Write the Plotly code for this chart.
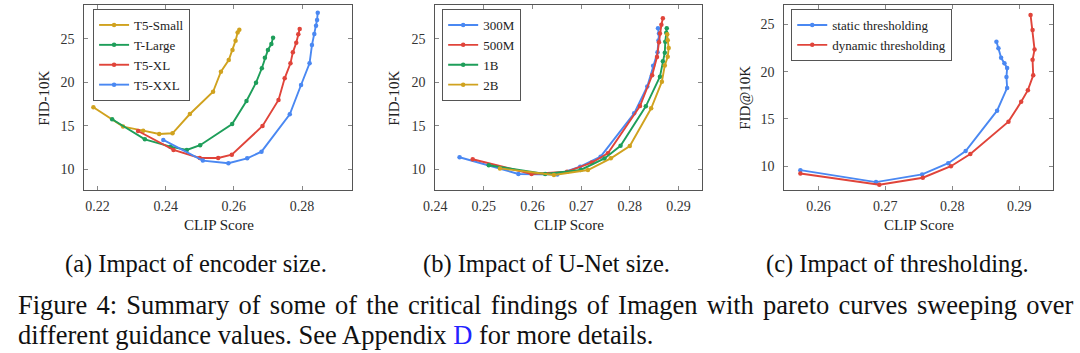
import plotly.graph_objects as go

# ---------------- data ----------------
# (a) Impact of encoder size
a_small_x = [0.2188, 0.2275, 0.2334, 0.2381, 0.2420, 0.2471, 0.2539, 0.2562, 0.2585, 0.2596, 0.2605, 0.2611, 0.2616]
a_small_y = [17.12, 14.90, 14.44, 14.06, 14.13, 16.35, 18.90, 21.20, 22.55, 23.70, 24.77, 25.70, 26.03]
a_large_x = [0.2243, 0.2339, 0.2414, 0.2462, 0.2501, 0.2595, 0.2637, 0.2665, 0.2682, 0.2691, 0.2700, 0.2710, 0.2715]
a_large_y = [15.74, 13.44, 12.60, 12.22, 12.76, 15.20, 17.85, 19.95, 21.60, 22.80, 23.70, 24.39, 25.10]
a_xl_x = [0.2319, 0.2423, 0.2500, 0.2554, 0.2594, 0.2684, 0.2731, 0.2749, 0.2766, 0.2773, 0.2783, 0.2789, 0.2793]
a_xl_y = [14.40, 12.22, 11.30, 11.30, 11.68, 14.97, 17.96, 20.45, 22.17, 23.43, 24.54, 25.50, 26.10]
a_xxl_x = [0.2393, 0.2509, 0.2584, 0.2639, 0.2681, 0.2764, 0.2797, 0.2822, 0.2829, 0.2836, 0.2841, 0.2844, 0.2846]
a_xxl_y = [13.37, 11.00, 10.69, 11.26, 12.02, 16.31, 19.68, 22.17, 24.27, 25.53, 26.50, 27.15, 27.99]

# (b) Impact of U-Net size
b_300m_x = [0.2450, 0.2571, 0.2651, 0.2698, 0.2740, 0.2809, 0.2836, 0.2848, 0.2857, 0.2859, 0.2860, 0.2858]
b_300m_y = [11.38, 9.46, 9.40, 10.30, 11.45, 16.43, 19.52, 21.90, 23.45, 24.80, 25.60, 26.20]
b_500m_x = [0.2477, 0.2598, 0.2671, 0.2722, 0.2755, 0.2821, 0.2846, 0.2856, 0.2860, 0.2862, 0.2865, 0.2868]
b_500m_y = [11.15, 9.46, 9.73, 10.77, 11.84, 17.27, 20.80, 22.90, 24.60, 25.60, 26.60, 27.35]
b_1b_x = [0.2510, 0.2626, 0.2699, 0.2748, 0.2781, 0.2833, 0.2862, 0.2868, 0.2872, 0.2873, 0.2875, 0.2876]
b_1b_y = [10.46, 9.46, 9.92, 11.24, 12.69, 17.23, 20.63, 22.40, 23.39, 24.65, 25.69, 26.20]
b_2b_x = [0.2533, 0.2644, 0.2714, 0.2761, 0.2800, 0.2844, 0.2866, 0.2872, 0.2878, 0.2880, 0.2878, 0.2877]
b_2b_y = [10.10, 9.35, 9.92, 11.26, 12.67, 17.00, 20.06, 21.93, 22.93, 23.93, 24.82, 25.50]

# (c) Impact of thresholding
c_static_x = [0.2573, 0.2686, 0.2755, 0.2794, 0.2820, 0.2867, 0.2882, 0.2881, 0.2882, 0.2878, 0.2873, 0.2869, 0.2866]
c_static_y = [9.58, 8.32, 9.13, 10.32, 11.60, 15.88, 18.29, 19.45, 20.39, 20.91, 21.48, 22.49, 23.19]
c_dyn_x = [0.2573, 0.2691, 0.2756, 0.2798, 0.2827, 0.2884, 0.2903, 0.2913, 0.2921, 0.2920, 0.2923, 0.2920, 0.2917]
c_dyn_y = [9.23, 8.04, 8.78, 10.00, 11.30, 14.72, 16.82, 18.05, 19.62, 21.27, 22.35, 24.42, 26.02]

a_xticks = [0.22, 0.24, 0.26, 0.28]
b_xticks = [0.24, 0.25, 0.26, 0.27, 0.28, 0.29]
c_xticks = [0.26, 0.27, 0.28, 0.29]
yticks = [10, 15, 20, 25]

# ---------------- style ----------------
GOLD = "#D0A21F"
GREEN = "#1E9E5A"
RED = "#E0443A"
BLUE = "#4A88F2"
SERIF = "Liberation Serif"

W, H = 1080, 353


def px_x(p):
    return p / W


def px_y(p):
    return 1 - p / H


fig = go.Figure()


def add(x, y, name, color, ax, leg):
    fig.add_trace(go.Scatter(
        x=x, y=y, name=name, mode="lines+markers",
        line=dict(color=color, width=1.9),
        marker=dict(color=color, size=4.5, symbol="circle"),
        xaxis=ax[0], yaxis=ax[1], legend=leg,
    ))


add(a_small_x, a_small_y, "T5-Small", GOLD, ("x", "y"), "legend")
add(a_large_x, a_large_y, "T-Large", GREEN, ("x", "y"), "legend")
add(a_xl_x, a_xl_y, "T5-XL", RED, ("x", "y"), "legend")
add(a_xxl_x, a_xxl_y, "T5-XXL", BLUE, ("x", "y"), "legend")

add(b_300m_x, b_300m_y, "300M", BLUE, ("x2", "y2"), "legend2")
add(b_500m_x, b_500m_y, "500M", RED, ("x2", "y2"), "legend2")
add(b_1b_x, b_1b_y, "1B", GREEN, ("x2", "y2"), "legend2")
add(b_2b_x, b_2b_y, "2B", GOLD, ("x2", "y2"), "legend2")

add(c_static_x, c_static_y, "static thresholding", BLUE, ("x3", "y3"), "legend3")
add(c_dyn_x, c_dyn_y, "dynamic thresholding", RED, ("x3", "y3"), "legend3")

tickfont = dict(family=SERIF, size=14, color="#333")


def xax(dom, rng, ticks, anchor):
    return dict(domain=dom, range=rng, anchor=anchor, tickvals=ticks,
                ticktext=[f"{t:.2f}" for t in ticks],
                showgrid=False, zeroline=False, showline=True, mirror="ticks",
                linecolor="#555", linewidth=1, ticks="inside", ticklen=4,
                tickcolor="#888", tickfont=tickfont, ticklabelstandoff=3)


def yax(dom, rng, anchor):
    return dict(domain=dom, range=rng, anchor=anchor, tickvals=yticks,
                ticktext=[str(t) for t in yticks],
                showgrid=False, zeroline=False, showline=True, mirror="ticks",
                linecolor="#555", linewidth=1, ticks="inside", ticklen=4,
                tickcolor="#888", tickfont=tickfont, ticklabelstandoff=6)


ydom = [px_y(190), px_y(5)]
fig.update_layout(
    xaxis=xax([px_x(73), px_x(344)], [0.2161, 0.2947], a_xticks, "y"),
    yaxis=yax(ydom, [7.62, 28.87], "x"),
    xaxis2=xax([px_x(428), px_x(698)], [0.2400, 0.2949], b_xticks, "y2"),
    yaxis2=yax(ydom, [7.62, 28.87], "x2"),
    xaxis3=xax([px_x(781), px_x(1053)], [0.2549, 0.2951], c_xticks, "y3"),
    yaxis3=yax(ydom, [7.48, 27.07], "x3"),
)

legstyle = dict(bgcolor="white", bordercolor="#555", borderwidth=1,
                font=dict(family=SERIF, size=13, color="#222"),
                xanchor="left", yanchor="top", itemwidth=30,
                tracegroupgap=0)
fig.update_layout(
    legend=dict(x=px_x(82), y=px_y(9), **legstyle),
    legend2=dict(x=px_x(435), y=px_y(9), **legstyle),
    legend3=dict(x=px_x(788), y=px_y(9), **legstyle),
)

ann = []
axis_title_font = dict(family=SERIF, size=15, color="#222")
for cx, ytitle, ytx in [(209, "FID-10K", 32), (563, "FID-10K", 386), (917, "FID@10K", 741)]:
    ann.append(dict(x=px_x(cx), y=px_y(225), xref="paper", yref="paper",
                    text="CLIP Score", showarrow=False, font=axis_title_font,
                    xanchor="center", yanchor="middle"))
    ann.append(dict(x=px_x(ytx), y=px_y(98), xref="paper", yref="paper",
                    text=ytitle, showarrow=False, font=axis_title_font,
                    textangle=-90, xanchor="center", yanchor="middle"))

sub_font = dict(family=SERIF, size=24.5, color="#111")
for cx, t in [(186, "(a) Impact of encoder size."),
              (540, "(b) Impact of U-Net size."),
              (895, "(c) Impact of thresholding.")]:
    ann.append(dict(x=px_x(cx), y=px_y(264), xref="paper", yref="paper", text=t,
                    showarrow=False, font=sub_font, xanchor="center", yanchor="middle"))

cap_font = dict(family=SERIF, size=26.5, color="#111")
ann.append(dict(x=px_x(4), y=px_y(305), xref="paper", yref="paper",
                text="<span style='word-spacing:2.6px'>Figure 4: Summary of some of the critical findings of Imagen with pareto curves sweeping over</span>",
                showarrow=False, font=cap_font, xanchor="left", yanchor="middle"))
ann.append(dict(x=px_x(4), y=px_y(335), xref="paper", yref="paper",
                text="different guidance values. See Appendix <span style='color:#2323ff'>D</span> for more details.",
                showarrow=False, font=cap_font, xanchor="left", yanchor="middle"))

fig.update_layout(
    annotations=ann,
    width=W, height=H, autosize=False,
    margin=dict(l=0, r=0, t=0, b=0),
    paper_bgcolor="white", plot_bgcolor="white",
    showlegend=True,
)

fig.write_html("out.html")
